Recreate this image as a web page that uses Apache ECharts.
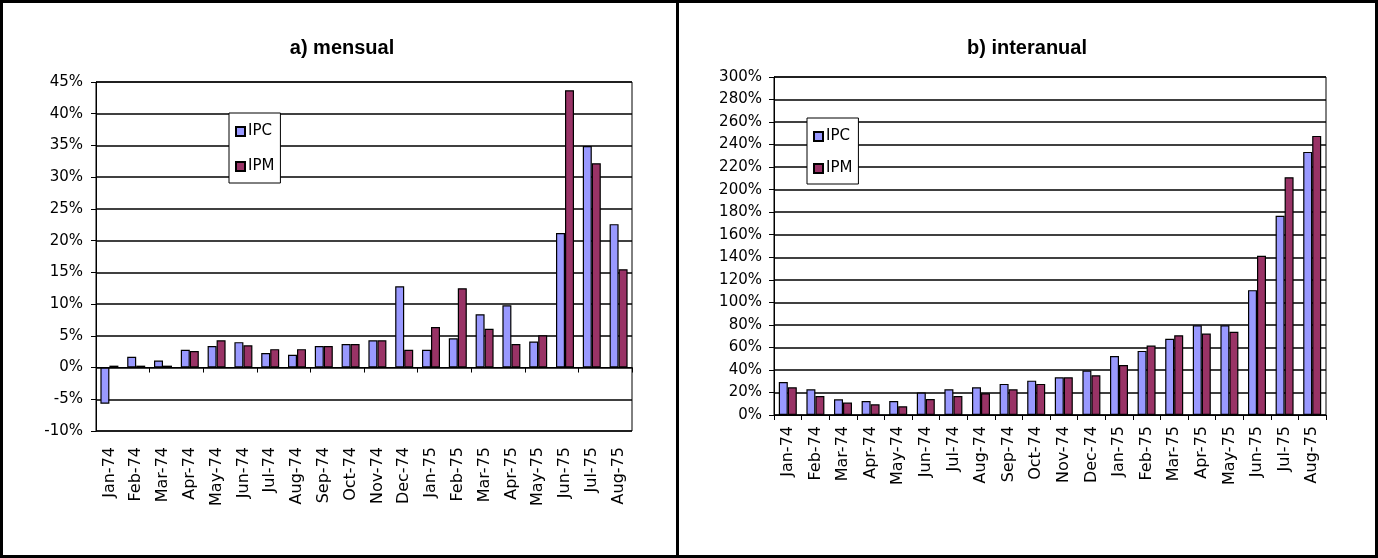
<!DOCTYPE html>
<html>
<head>
<meta charset="utf-8">
<script src="https://cdn.jsdelivr.net/npm/echarts@6/dist/echarts.min.js"></script>
<style>
  html, body { margin: 0; padding: 0; background: #fff; }
  #frame { position: absolute; left: 0; top: 0; width: 1378px; height: 558px; box-sizing: border-box; border: 3px solid #000; }
  #divider { position: absolute; left: 676px; top: 0; width: 3px; height: 558px; background: #000; }
  #chart { position: absolute; left: 0; top: 0; width: 1378px; height: 558px; }
</style>
</head>
<body>
<div id="chart"></div>
<div id="frame"></div>
<div id="divider"></div>
<script>
// ---- data ----
const categories = ['Jan-74','Feb-74','Mar-74','Apr-74','May-74','Jun-74','Jul-74','Aug-74','Sep-74','Oct-74','Nov-74','Dec-74','Jan-75','Feb-75','Mar-75','Apr-75','May-75','Jun-75','Jul-75','Aug-75'];
const seriesNames = ['IPC', 'IPM'];
const titles = ['a) mensual', 'b) interanual'];
// a) mensual (% monthly change)
const mensualIPC = [-5.7, 1.7, 1.1, 2.8, 3.4, 4.0, 2.3, 2.0, 3.4, 3.7, 4.3, 12.8, 2.8, 4.6, 8.4, 9.8, 4.1, 21.2, 34.9, 22.6];
const mensualIPM = [0.3, 0.3, 0.3, 2.6, 4.3, 3.5, 2.9, 2.9, 3.4, 3.7, 4.3, 2.8, 6.4, 12.5, 6.1, 3.7, 5.1, 43.7, 32.2, 15.5];
// b) interanual (% year-on-year change)
const interIPC = [29.3, 22.8, 13.9, 12.4, 12.4, 19.9, 22.8, 24.6, 27.6, 30.5, 33.5, 39.4, 52.4, 56.9, 67.6, 79.7, 79.7, 110.8, 176.9, 233.5];
const interIPM = [24.6, 16.9, 11.0, 9.5, 7.7, 14.2, 16.9, 19.3, 22.8, 27.6, 33.5, 35.3, 44.4, 61.6, 70.8, 72.3, 73.8, 141.3, 211.0, 247.7];

const colIPC = '#9999FF';
const colIPM = '#993366';

const chart = echarts.init(document.getElementById('chart'), null, { renderer: 'canvas' });

const axisFont = { fontFamily: 'DejaVu Sans', fontSize: 15, color: '#000' };
const xFont = { fontFamily: 'DejaVu Sans', fontSize: 16, color: '#000' };
const blackLine = { color: '#000', width: 1 };
const gridLine = { color: '#000', width: 1.5 };

function yAxis(gridIndex, min, max, interval, margin) {
  return {
    type: 'value', gridIndex, min, max, interval,
    axisLine: { show: true, lineStyle: blackLine },
    axisTick: { show: true, length: 5, lineStyle: blackLine },
    axisLabel: Object.assign({ formatter: '{value}%', margin }, axisFont),
    splitLine: { show: true, lineStyle: gridLine }
  };
}

function barSeries(name, data, xi, yi, color) {
  return {
    type: 'bar', name, data, xAxisIndex: xi, yAxisIndex: yi,
    barWidth: 9, barGap: '0%',
    itemStyle: { color, borderColor: '#000', borderWidth: 1.2 },
    emphasis: { disabled: true },
    animation: false
  };
}

const titleStyle = { fontFamily: 'Liberation Sans', fontWeight: 'bold', fontSize: 20, color: '#000' };
const legendText = { fontFamily: 'DejaVu Sans', fontSize: 15, color: '#000', lineHeight: 15, padding: [0, 0, 0, -2] };

const option = {
  animation: false,
  title: [
    { text: titles[0], left: 342, top: 38, textAlign: 'center', padding: 0, textStyle: titleStyle },
    { text: titles[1], left: 1027, top: 38, textAlign: 'center', padding: 0, textStyle: titleStyle }
  ],
  legend: [
    { data: seriesNames, orient: 'vertical', left: 229, top: 113, padding: [11, 6, 9, 6],
      itemWidth: 9, itemHeight: 9, itemGap: 20, icon: 'rect', selectedMode: false,
      borderColor: '#000', borderWidth: 1, backgroundColor: '#fff', textStyle: legendText },
    { data: seriesNames, orient: 'vertical', left: 807, top: 118, padding: [11, 6, 8, 6],
      itemWidth: 9, itemHeight: 9, itemGap: 17, icon: 'rect', selectedMode: false,
      borderColor: '#000', borderWidth: 1, backgroundColor: '#fff', textStyle: legendText }
  ],
  grid: [
    { left: 96, top: 82, width: 536, height: 349, containLabel: false, outerBoundsMode: 'none',
      show: true, borderColor: '#000', borderWidth: 1, backgroundColor: 'transparent' },
    { left: 774, top: 77, width: 552, height: 338, containLabel: false, outerBoundsMode: 'none',
      show: true, borderColor: '#000', borderWidth: 1, backgroundColor: 'transparent' }
  ],
  xAxis: [
    // zero line with ticks for the monthly chart
    { type: 'category', gridIndex: 0, data: categories, position: 'bottom',
      axisLine: { show: true, onZero: true, lineStyle: blackLine },
      axisTick: { show: true, length: 5, lineStyle: blackLine },
      axisLabel: { show: false }, splitLine: { show: false } },
    // labels at the bottom of the monthly chart
    { type: 'category', gridIndex: 0, data: categories, position: 'bottom',
      axisLine: { show: false, onZero: false }, axisTick: { show: false },
      axisLabel: Object.assign({ show: true, rotate: 90, margin: 16, interval: 0 }, xFont),
      splitLine: { show: false } },
    // interanual chart
    { type: 'category', gridIndex: 1, data: categories, position: 'bottom',
      axisLine: { show: true, onZero: false, lineStyle: blackLine },
      axisTick: { show: true, length: 5, lineStyle: blackLine },
      axisLabel: Object.assign({ show: true, rotate: 90, margin: 11, interval: 0 }, xFont),
      splitLine: { show: false } }
  ],
  yAxis: [
    yAxis(0, -10, 45, 5, 13),
    yAxis(1, 0, 300, 20, 12)
  ],
  series: [
    barSeries(seriesNames[0], mensualIPC, 0, 0, colIPC),
    barSeries(seriesNames[1], mensualIPM, 0, 0, colIPM),
    barSeries(seriesNames[0], interIPC, 2, 1, colIPC),
    barSeries(seriesNames[1], interIPM, 2, 1, colIPM)
  ]
};
chart.setOption(option);
</script>
</body>
</html>
